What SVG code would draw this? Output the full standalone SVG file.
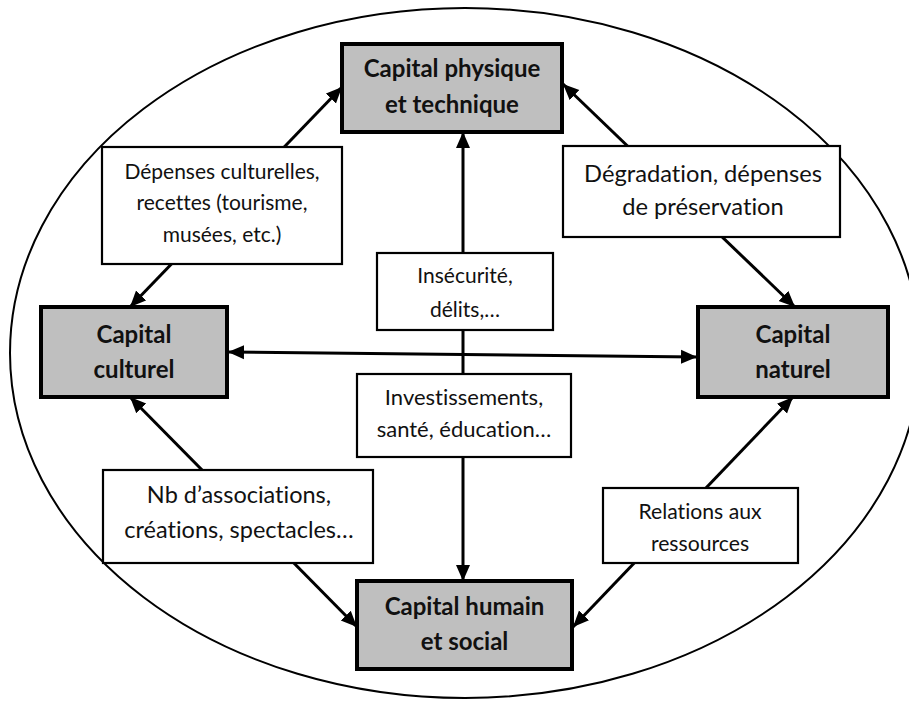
<svg xmlns="http://www.w3.org/2000/svg" width="909" height="701" viewBox="0 0 909 701">
<style>
.title{fill:#bfbfbf;stroke:#000;stroke-width:4}
.lab{fill:#fff;stroke:#000;stroke-width:2.2}
.tt{font-family:Lato,"Liberation Sans",sans-serif;font-weight:bold;font-size:24px;fill:#111;text-anchor:middle;font-variant-ligatures:none;font-feature-settings:"liga" 0,"clig" 0,"dlig" 0}
.tx{font-family:Lato,"Liberation Sans",sans-serif;fill:#111;text-anchor:middle;font-variant-ligatures:none;font-feature-settings:"liga" 0,"clig" 0,"dlig" 0}
.con{stroke:#000;stroke-width:3;fill:none;marker-start:url(#ah);marker-end:url(#ah)}
</style>
<defs>
<marker id="ah" markerUnits="userSpaceOnUse" markerWidth="18" markerHeight="16" refX="16" refY="8" orient="auto-start-reverse">
<path d="M0,1 L16,8 L0,15 z" fill="#000"/>
</marker>
</defs>
<rect width="909" height="701" fill="#fff"/>
<ellipse cx="465" cy="353" rx="455" ry="345" fill="none" stroke="#000" stroke-width="2"/>
<g id="connectors">
<line class="con" x1="130" y1="307" x2="342" y2="87"/>
<line class="con" x1="563" y1="84" x2="795" y2="307"/>
<line class="con" x1="463" y1="132" x2="463" y2="581"/>
<line class="con" x1="228" y1="352" x2="697" y2="357"/>
<line class="con" x1="130" y1="397" x2="357" y2="627"/>
<line class="con" x1="793" y1="397" x2="573" y2="627"/>
</g>
<g id="lab-depenses">
<rect class="lab" x="102" y="147" width="240" height="117"/>
<text class="tx" font-size="21" x="222" y="179">Dépenses culturelles,</text>
<text class="tx" font-size="21" x="222" y="210">recettes (tourisme,</text>
<text class="tx" font-size="21" x="222" y="242">musées, etc.)</text>
</g>
<g id="lab-degradation">
<rect class="lab" x="563" y="146" width="277" height="91"/>
<text class="tx" font-size="23.7" x="703" y="182">Dégradation, dépenses</text>
<text class="tx" font-size="23.7" x="703" y="215">de préservation</text>
</g>
<g id="lab-insecurite">
<rect class="lab" x="377" y="253" width="176" height="77"/>
<text class="tx" font-size="21" x="465" y="283">Insécurité,</text>
<text class="tx" font-size="21" x="465" y="317">délits,…</text>
</g>
<g id="lab-investissements">
<rect class="lab" x="357" y="374" width="214" height="83"/>
<text class="tx" font-size="22" x="464" y="405">Investissements,</text>
<text class="tx" font-size="22" x="464" y="437">santé, éducation…</text>
</g>
<g id="lab-associations">
<rect class="lab" x="103" y="470" width="270" height="93"/>
<text class="tx" font-size="23.5" x="239" y="503">Nb d’associations,</text>
<text class="tx" font-size="23.5" x="239" y="538">créations, spectacles…</text>
</g>
<g id="lab-relations">
<rect class="lab" x="603" y="488" width="195" height="75"/>
<text class="tx" font-size="21.2" x="700" y="519">Relations aux</text>
<text class="tx" font-size="21.2" x="700" y="551">ressources</text>
</g>
<g id="node-physique">
<rect class="title" x="342" y="44" width="220" height="88"/>
<text class="tt" x="452" y="77">Capital physique</text>
<text class="tt" x="452" y="113">et technique</text>
</g>
<g id="node-culturel">
<rect class="title" x="41" y="307" width="186" height="90"/>
<text class="tt" x="134" y="343">Capital</text>
<text class="tt" x="134" y="378">culturel</text>
</g>
<g id="node-naturel">
<rect class="title" x="698" y="307" width="190" height="90"/>
<text class="tt" x="793" y="343">Capital</text>
<text class="tt" x="793" y="378">naturel</text>
</g>
<g id="node-humain">
<rect class="title" x="357" y="581" width="215" height="88"/>
<text class="tt" x="464.5" y="615">Capital humain</text>
<text class="tt" x="464.5" y="650">et social</text>
</g>
</svg>
